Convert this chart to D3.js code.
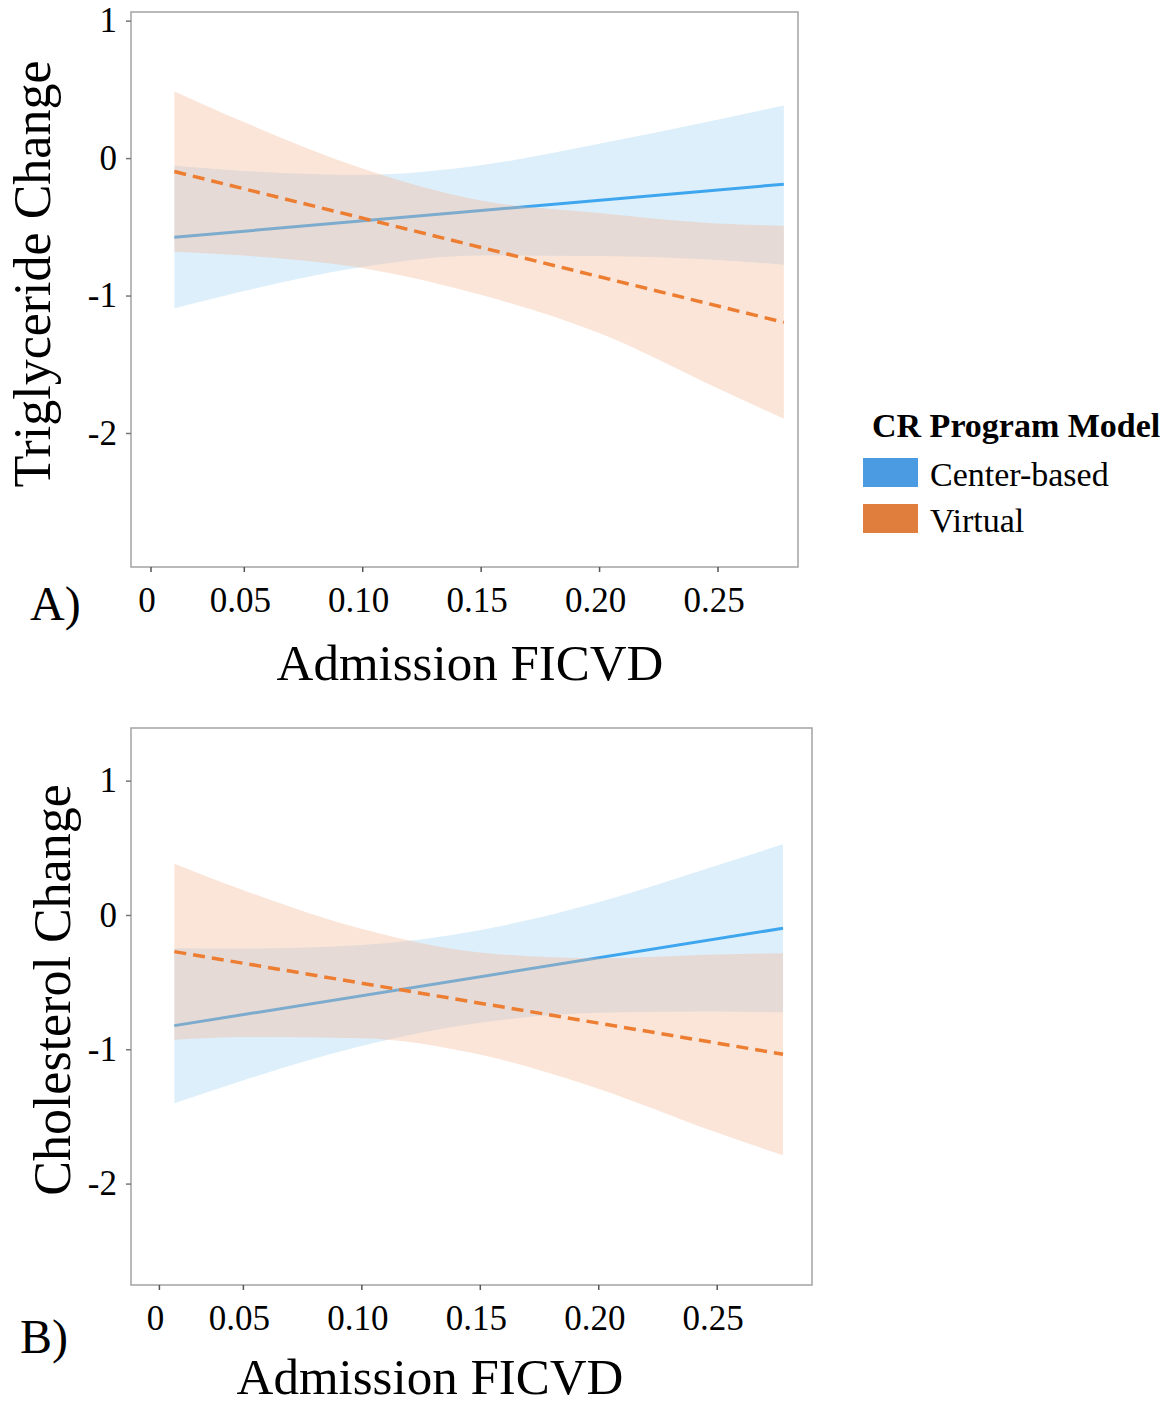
<!DOCTYPE html>
<html>
<head>
<meta charset="utf-8">
<script src="https://cdn.jsdelivr.net/npm/d3@7"></script>
<style>
body{margin:0;background:#fff;}
text{font-family:"Liberation Serif","Times New Roman",serif;fill:#000;}
</style>
</head>
<body>
<svg id="chart"></svg>
<script>
var xTrig = [0.0128,0.05,0.10,0.15,0.20,0.25,0.278];
var xChol = [0.0092,0.05,0.10,0.15,0.20,0.25,0.278];

var xTicks = [0,0.05,0.10,0.15,0.20,0.25];
var xTickLabels = ["0","0.05","0.10","0.15","0.20","0.25"];
var yTicks = [-2,-1,0,1];

var groups = ["Center-based","Virtual"];

//panel A, triglyceride change (lines: first and last x only)
var trigCenterLine = [-0.576,-0.190];
var trigCenterUpper = [-0.056,-0.093,-0.122,-0.052,0.104,0.279,0.383];
var trigCenterLower = [-1.093,-0.967,-0.792,-0.708,-0.712,-0.741,-0.776];
var trigVirtualLine = [-0.098,-1.195];
var trigVirtualUpper = [0.485,0.262,-0.075,-0.308,-0.399,-0.476,-0.493];
var trigVirtualLower = [-0.681,-0.709,-0.800,-0.995,-1.273,-1.674,-1.897];

//panel B, cholesterol change
var cholCenterLine = [-0.824,-0.099];
var cholCenterUpper = [-0.247,-0.250,-0.223,-0.113,0.095,0.369,0.526];
var cholCenterLower = [-1.401,-1.232,-0.976,-0.803,-0.728,-0.719,-0.725];
var cholVirtualLine = [-0.273,-1.037];
var cholVirtualUpper = [0.382,0.186,-0.103,-0.279,-0.322,-0.294,-0.285];
var cholVirtualLower = [-0.929,-0.908,-0.917,-1.039,-1.293,-1.620,-1.789];

var colors = {
    centerBand:"#ddeffb", centerLine:"#3ea6ee",
    virtualBand:"rgb(244,180,143)", virtualLine:"#ec7d31",
    centerKey:"#4a9be2", virtualKey:"#e07e3e"
};

var svg = d3.select("#chart")
    .attr("width",1173)
    .attr("height",1406);

//draws one band + fitted line
var drawFit = function(g,xs,upper,lower,line,xScale,yScale,bandFill,bandOpacity,lineColor,dash,lineWidth)
{
    var area = d3.area()
        .x(function(d,i){ return xScale(xs[i]); })
        .y0(function(d,i){ return yScale(lower[i]); })
        .y1(function(d,i){ return yScale(upper[i]); })
        .curve(d3.curveMonotoneX);

    g.append("path")
        .datum(upper)
        .attr("d",area)
        .attr("fill",bandFill)
        .attr("fill-opacity",bandOpacity);

    var ends = [xs[0],xs[xs.length-1]];
    g.append("path")
        .datum(line)
        .attr("d",d3.line()
            .x(function(d,i){ return xScale(ends[i]); })
            .y(function(d){ return yScale(d); }))
        .attr("fill","none")
        .attr("stroke",lineColor)
        .attr("stroke-width",lineWidth)
        .attr("stroke-dasharray",dash);
}

var drawPanel = function(p)
{
    var xScale = d3.scaleLinear()
        .domain([0,0.05,0.25])
        .range(p.xRange);
    var yScale = d3.scaleLinear()
        .domain(p.yDomain)
        .range([p.box.bottom,p.box.top]);

    var g = svg.append("g");

    drawFit(g,p.xs,p.centerUpper,p.centerLower,p.centerLine,xScale,yScale,
        colors.centerBand,1,colors.centerLine,null,3);
    drawFit(g,p.xs,p.virtualUpper,p.virtualLower,p.virtualLine,xScale,yScale,
        colors.virtualBand,0.35,colors.virtualLine,"12,7",3.5);

    //panel border
    g.append("rect")
        .attr("x",p.box.left)
        .attr("y",p.box.top)
        .attr("width",p.box.right-p.box.left)
        .attr("height",p.box.bottom-p.box.top)
        .attr("fill","none")
        .attr("stroke","#a3a3a3")
        .attr("stroke-width",1.5);

    var xAxis = d3.axisBottom(xScale)
        .tickValues(xTicks)
        .tickFormat(function(d,i){ return xTickLabels[i]; })
        .tickSize(5)
        .tickPadding(15);
    var ax = g.append("g")
        .attr("transform","translate(0,"+p.box.bottom+")")
        .call(xAxis);
    ax.select(".domain").remove();
    ax.selectAll("line").attr("stroke","#555").attr("stroke-width",1.5);
    ax.selectAll("text")
        .attr("dx",-4)
        .style("font-size","35px")
        .style("font-family","'Liberation Serif',serif");

    var yAxis = d3.axisLeft(yScale)
        .tickValues(yTicks)
        .tickFormat(function(d){ return String(d); })
        .tickSize(5)
        .tickPadding(9);
    var ay = g.append("g")
        .attr("transform","translate("+p.box.left+",0)")
        .call(yAxis);
    ay.select(".domain").remove();
    ay.selectAll("line").attr("stroke","#777").attr("stroke-width",1.5);
    ay.selectAll("text")
        .style("font-size","35px")
        .style("font-family","'Liberation Serif',serif");

    g.append("text")
        .attr("transform","translate("+p.yTitle[0]+","+p.yTitle[1]+") rotate(-90)")
        .attr("text-anchor","middle")
        .style("font-size","52px")
        .text(p.yLabel);

    g.append("text")
        .attr("x",p.xTitle[0])
        .attr("y",p.xTitle[1])
        .attr("text-anchor","middle")
        .style("font-size","51px")
        .text("Admission FICVD");

    g.append("text")
        .attr("x",p.tag[0])
        .attr("y",p.tag[1])
        .style("font-size","48px")
        .text(p.tagText);
}

drawPanel({
    box:{left:131,top:12,right:798,bottom:567},
    xRange:[150.5,243.8,717.5],
    yDomain:[-2.975,1.063],
    xs:xTrig,
    centerLine:trigCenterLine, centerUpper:trigCenterUpper, centerLower:trigCenterLower,
    virtualLine:trigVirtualLine, virtualUpper:trigVirtualUpper, virtualLower:trigVirtualLower,
    yLabel:"Triglyceride Change", yTitle:[50,274],
    xTitle:[470,680], tag:[30,620], tagText:"A)"
});

drawPanel({
    box:{left:131,top:728,right:812,bottom:1285},
    xRange:[158.9,242.9,716.7],
    yDomain:[-2.755,1.392],
    xs:xChol,
    centerLine:cholCenterLine, centerUpper:cholCenterUpper, centerLower:cholCenterLower,
    virtualLine:cholVirtualLine, virtualUpper:cholVirtualUpper, virtualLower:cholVirtualLower,
    yLabel:"Cholesterol Change", yTitle:[70,990],
    xTitle:[430,1394], tag:[20,1353], tagText:"B)"
});

//legend
var legend = svg.append("g");
legend.append("text")
    .attr("x",872)
    .attr("y",437)
    .style("font-size","34px")
    .style("font-weight","bold")
    .text("CR Program Model");

var keyColors = [colors.centerKey,colors.virtualKey];
var keys = legend.selectAll(".key")
    .data(groups)
    .enter()
    .append("g")
    .attr("transform",function(d,i){ return "translate(0,"+(458+i*46)+")"; });
keys.append("rect")
    .attr("x",863)
    .attr("width",55)
    .attr("height",29)
    .attr("fill",function(d,i){ return keyColors[i]; });
keys.append("text")
    .attr("x",930)
    .attr("y",28)
    .style("font-size","34px")
    .text(function(d){ return d; });
</script>
</body>
</html>
